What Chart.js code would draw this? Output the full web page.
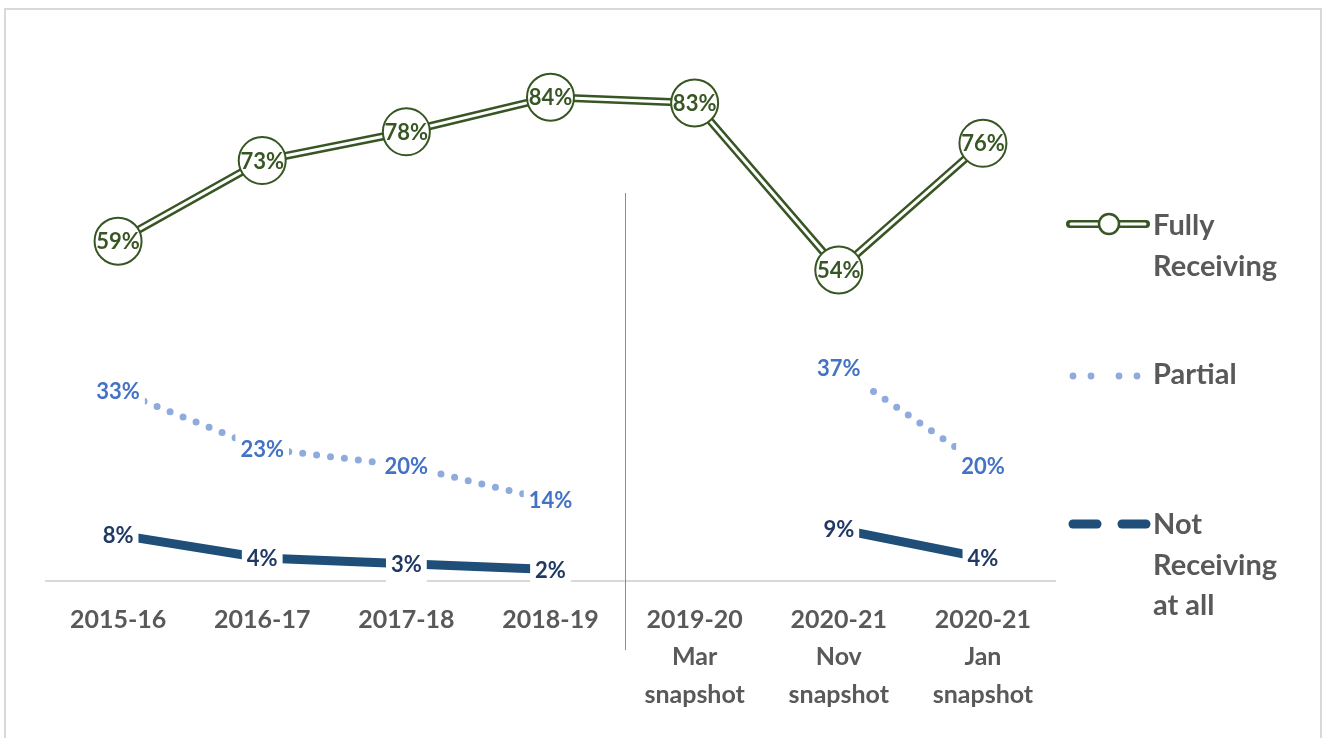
<!DOCTYPE html>
<html>
<head>
<meta charset="utf-8">
<script src="https://cdn.jsdelivr.net/npm/chart.js@4.4.1/dist/chart.umd.min.js"></script>
<style>
  html, body { margin: 0; padding: 0; background: #ffffff; }
  #wrap { position: relative; width: 1325px; height: 738px; }
</style>
</head>
<body>
<div id="wrap"><canvas id="chart" width="1325" height="738"></canvas></div>
<script>
// categories (multi-line ticks) and series values, in percent
const categories = [
  ['2015-16'],
  ['2016-17'],
  ['2017-18'],
  ['2018-19'],
  ['2019-20', 'Mar', 'snapshot'],
  ['2020-21', 'Nov', 'snapshot'],
  ['2020-21', 'Jan', 'snapshot'],
]
const fullyReceiving = [59, 73, 78, 84, 83, 54, 76]
const partial = [33, 23, 20, 14, null, 37, 20]
const notReceiving = [8, 4, 3, 2, null, 9, 4]

const GREEN = '#375623'
const PARTIAL_LINE = '#8faadc'
const PARTIAL_TEXT = '#4472c4'
const NOT_LINE = '#1f4e79'
const NOT_TEXT = '#203864'
const GREY_TEXT = '#595959'
const FONT = 'Lato, "Open Sans", sans-serif'

// series labels: colour and whether the label sits in a white box
const labelStyle = {
  'Fully Receiving': { color: GREEN, boxed: false },
  'Partial': { color: PARTIAL_TEXT, boxed: true },
  'Not Receiving at all': { color: NOT_TEXT, boxed: true },
}

const frame = {
  id: 'frame',
  beforeDraw(chart) {
    const { ctx } = chart
    ctx.save()
    ctx.strokeStyle = '#d9d9d9'
    ctx.lineWidth = 2
    ctx.strokeRect(5, 9, 1316, 760)
    ctx.restore()
  },
}

// thin rule between yearly figures and the snapshots
const divider = {
  id: 'divider',
  beforeDatasetsDraw(chart) {
    const { ctx, scales } = chart
    const x = Math.round((scales.x.getPixelForValue(3) + scales.x.getPixelForValue(4)) / 2) + 2.5
    ctx.save()
    ctx.strokeStyle = '#8c8c8c'
    ctx.lineWidth = 1
    ctx.beginPath()
    ctx.moveTo(x, 193)
    ctx.lineTo(x, 650)
    ctx.stroke()
    ctx.restore()
  },
}

const valueLabels = {
  id: 'valueLabels',
  afterDatasetsDraw(chart) {
    const { ctx } = chart
    ctx.save()
    ctx.font = `bold 22px ${FONT}`
    ctx.textAlign = 'center'
    ctx.textBaseline = 'middle'
    chart.data.datasets.forEach((ds, di) => {
      const style = labelStyle[ds.label]
      if (!style) return
      const meta = chart.getDatasetMeta(di)
      meta.data.forEach((pt, i) => {
        const v = ds.data[i]
        if (v === null || v === undefined) return
        const text = `${v}%`
        if (style.boxed) {
          const w = ctx.measureText(text).width + 10
          ctx.fillStyle = '#ffffff'
          ctx.fillRect(pt.x - w / 2, pt.y - 22, w, 44)
        }
        ctx.fillStyle = style.color
        ctx.fillText(text, pt.x, pt.y + 1)
      })
    })
    ctx.restore()
  },
}

const sideLegend = {
  id: 'sideLegend',
  afterDraw(chart) {
    const { ctx } = chart
    ctx.save()

    // Fully Receiving: double line with open circle
    ctx.lineCap = 'round'
    ctx.strokeStyle = GREEN
    ctx.lineWidth = 8
    ctx.beginPath(); ctx.moveTo(1070, 224); ctx.lineTo(1146, 224); ctx.stroke()
    ctx.strokeStyle = '#ffffff'
    ctx.lineWidth = 3
    ctx.beginPath(); ctx.moveTo(1071, 224); ctx.lineTo(1145, 224); ctx.stroke()
    ctx.beginPath(); ctx.arc(1109, 224, 10, 0, Math.PI * 2)
    ctx.fillStyle = '#ffffff'; ctx.fill()
    ctx.strokeStyle = GREEN; ctx.lineWidth = 2.5; ctx.stroke()

    // Partial: two pairs of dots
    ctx.fillStyle = PARTIAL_LINE
    ;[1073, 1091, 1119, 1137].forEach((x) => {
      ctx.beginPath(); ctx.arc(x, 376, 3.4, 0, Math.PI * 2); ctx.fill()
    })

    // Not Receiving: long dashes
    ctx.strokeStyle = NOT_LINE
    ctx.lineWidth = 9
    ctx.lineCap = 'round'
    ctx.beginPath(); ctx.moveTo(1073, 524); ctx.lineTo(1097, 524); ctx.stroke()
    ctx.beginPath(); ctx.moveTo(1122, 524); ctx.lineTo(1146, 524); ctx.stroke()

    ctx.fillStyle = GREY_TEXT
    ctx.font = `bold 29px ${FONT}`
    ctx.textAlign = 'left'
    ctx.textBaseline = 'middle'
    ctx.fillText('Fully', 1153, 226)
    ctx.fillText('Receiving', 1153, 267)
    ctx.fillText('Partial', 1153, 375)
    ctx.fillText('Not', 1153, 525)
    ctx.fillText('Receiving', 1153, 566)
    ctx.fillText('at all', 1153, 606)
    ctx.restore()
  },
}

new Chart(document.getElementById('chart').getContext('2d'), {
  type: 'line',
  data: {
    labels: categories,
    datasets: [
      {
        label: 'Fully Receiving',
        data: fullyReceiving,
        borderColor: '#ffffff',
        borderWidth: 3,
        pointRadius: 23.5,
        pointBackgroundColor: '#ffffff',
        pointBorderColor: GREEN,
        pointBorderWidth: 2,
        order: 1,
      },
      {
        label: 'Fully Receiving outline',
        data: fullyReceiving,
        borderColor: GREEN,
        borderWidth: 8,
        pointRadius: 0,
        order: 2,
      },
      {
        label: 'Partial',
        data: partial,
        borderColor: PARTIAL_LINE,
        borderWidth: 7,
        borderDash: [0, 14],
        borderCapStyle: 'round',
        pointRadius: 0,
        spanGaps: false,
        order: 3,
      },
      {
        label: 'Not Receiving at all',
        data: notReceiving,
        borderColor: NOT_LINE,
        borderWidth: 9,
        pointRadius: 0,
        spanGaps: false,
        order: 4,
      },
    ],
  },
  options: {
    responsive: false,
    animation: false,
    events: [],
    layout: { autoPadding: false, padding: { left: 46, right: 270, top: 5, bottom: 0 } },
    scales: {
      x: {
        offset: true,
        grid: { display: false, drawTicks: false },
        border: { display: true, color: '#d9d9d9', width: 2 },
        ticks: {
          color: GREY_TEXT,
          padding: 20,
          maxRotation: 0,
          autoSkip: false,
          font: { family: FONT, size: 25, weight: 'bold', lineHeight: 1.5 },
        },
        afterFit(scale) { scale.height = 157 },
      },
      y: {
        display: false,
        min: 0,
        max: 100,
      },
    },
    plugins: {
      legend: { display: false },
      tooltip: { enabled: false },
    },
  },
  plugins: [frame, divider, valueLabels, sideLegend],
})
</script>
</body>
</html>
